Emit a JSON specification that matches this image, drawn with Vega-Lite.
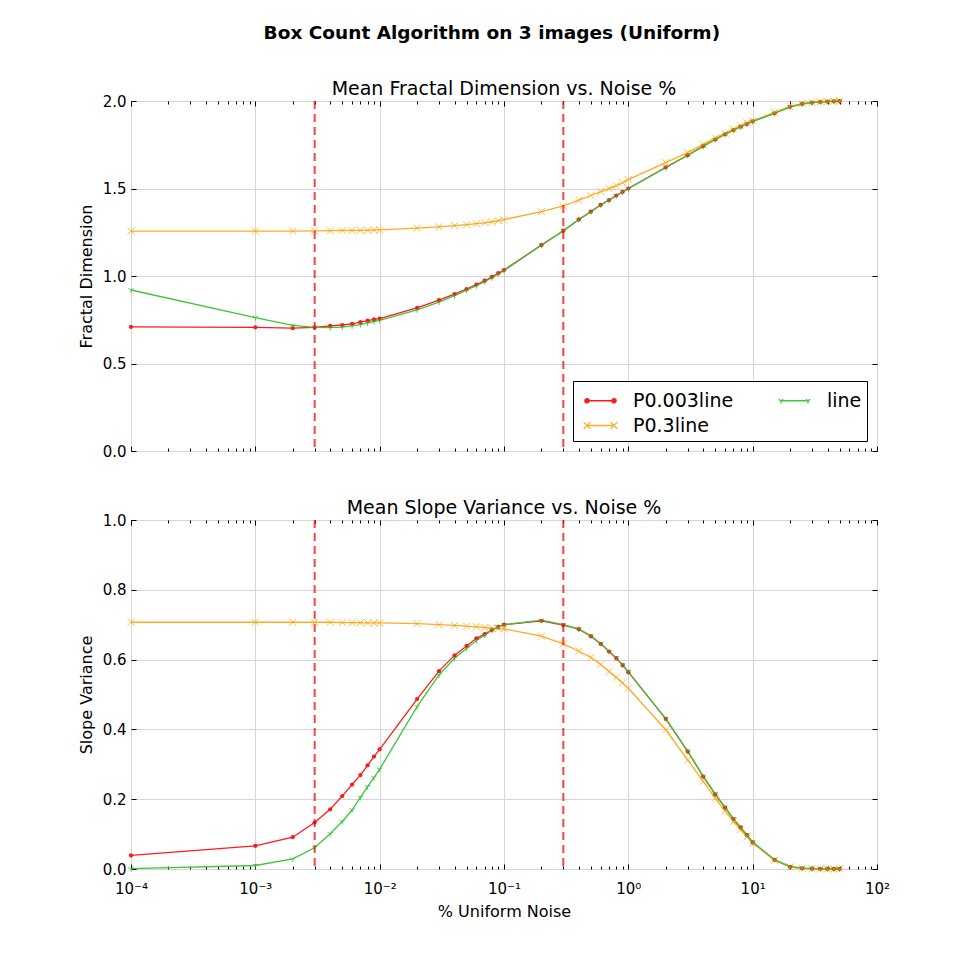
{
"$schema": "https://vega.github.io/schema/vega-lite/v6.json",
"padding": {"left": 77, "top": 24, "right": 10, "bottom": 10},
"title": {"text": "Box Count Algorithm on 3 images (Uniform)", "fontSize": 18.5, "fontWeight": "bold", "anchor": "middle", "offset": 37, "dx": 8, "font": "DejaVu Sans", "color": "black"},
"config": {
 "font": "DejaVu Sans",
 "view": {"stroke": "black", "strokeWidth": 1},
 "axis": {"domain": false, "grid": false, "gridColor": "#d6d6d6", "gridWidth": 1, "gridOpacity": 1, "tickColor": "black", "tickSize": -5, "tickWidth": 1, "labelFlush": false, "labelFont": "DejaVu Sans", "labelFontSize": 15, "labelColor": "black", "titleFont": "DejaVu Sans", "titleFontSize": 16, "titleFontWeight": "normal", "titleColor": "black"},
 "legend": {"orient": "bottom-right", "offset": 10, "columns": 2, "columnPadding": 38, "rowPadding": 0, "strokeColor": "black", "fillColor": "white", "padding": 5, "labelFont": "DejaVu Sans", "labelFontSize": 19, "labelColor": "black", "symbolSize": 729, "symbolStrokeWidth": 1.3, "symbolOffset": 8, "labelOffset": 18, "cornerRadius": 0}
},
"datasets": {
 "d": [
{"x":0.0001,"s":"P0.003line","fd":0.709,"sv":0.039},
{"x":0.001,"s":"P0.003line","fd":0.707,"sv":0.066},
{"x":0.002,"s":"P0.003line","fd":0.702,"sv":0.091},
{"x":0.003,"s":"P0.003line","fd":0.706,"sv":0.133},
{"x":0.004,"s":"P0.003line","fd":0.715,"sv":0.171},
{"x":0.005,"s":"P0.003line","fd":0.72,"sv":0.209},
{"x":0.006,"s":"P0.003line","fd":0.727,"sv":0.242},
{"x":0.007,"s":"P0.003line","fd":0.737,"sv":0.269},
{"x":0.008,"s":"P0.003line","fd":0.745,"sv":0.297},
{"x":0.009,"s":"P0.003line","fd":0.752,"sv":0.322},
{"x":0.01,"s":"P0.003line","fd":0.757,"sv":0.343},
{"x":0.02,"s":"P0.003line","fd":0.818,"sv":0.487},
{"x":0.03,"s":"P0.003line","fd":0.862,"sv":0.567},
{"x":0.04,"s":"P0.003line","fd":0.896,"sv":0.612},
{"x":0.05,"s":"P0.003line","fd":0.925,"sv":0.639},
{"x":0.06,"s":"P0.003line","fd":0.951,"sv":0.661},
{"x":0.07,"s":"P0.003line","fd":0.973,"sv":0.673},
{"x":0.08,"s":"P0.003line","fd":0.995,"sv":0.685},
{"x":0.09,"s":"P0.003line","fd":1.016,"sv":0.694},
{"x":0.1,"s":"P0.003line","fd":1.034,"sv":0.7},
{"x":0.2,"s":"P0.003line","fd":1.177,"sv":0.711},
{"x":0.3,"s":"P0.003line","fd":1.259,"sv":0.699},
{"x":0.4,"s":"P0.003line","fd":1.323,"sv":0.687},
{"x":0.5,"s":"P0.003line","fd":1.368,"sv":0.667},
{"x":0.6,"s":"P0.003line","fd":1.407,"sv":0.645},
{"x":0.7,"s":"P0.003line","fd":1.434,"sv":0.623},
{"x":0.8,"s":"P0.003line","fd":1.46,"sv":0.604},
{"x":0.9,"s":"P0.003line","fd":1.481,"sv":0.584},
{"x":1,"s":"P0.003line","fd":1.5,"sv":0.564},
{"x":2,"s":"P0.003line","fd":1.621,"sv":0.43},
{"x":3,"s":"P0.003line","fd":1.69,"sv":0.337},
{"x":4,"s":"P0.003line","fd":1.742,"sv":0.265},
{"x":5,"s":"P0.003line","fd":1.78,"sv":0.214},
{"x":6,"s":"P0.003line","fd":1.81,"sv":0.176},
{"x":7,"s":"P0.003line","fd":1.834,"sv":0.143},
{"x":8,"s":"P0.003line","fd":1.853,"sv":0.119},
{"x":9,"s":"P0.003line","fd":1.869,"sv":0.097},
{"x":10,"s":"P0.003line","fd":1.884,"sv":0.076},
{"x":15,"s":"P0.003line","fd":1.93,"sv":0.026},
{"x":20,"s":"P0.003line","fd":1.967,"sv":0.006},
{"x":25,"s":"P0.003line","fd":1.983,"sv":0.002},
{"x":30,"s":"P0.003line","fd":1.991,"sv":0.001},
{"x":35,"s":"P0.003line","fd":1.995,"sv":0.0005},
{"x":40,"s":"P0.003line","fd":1.997,"sv":0.0003},
{"x":45,"s":"P0.003line","fd":1.998,"sv":0.0002},
{"x":50,"s":"P0.003line","fd":1.999,"sv":0.0001},
{"x":0.0001,"s":"P0.3line","fd":1.257,"sv":0.707},
{"x":0.001,"s":"P0.3line","fd":1.257,"sv":0.707},
{"x":0.002,"s":"P0.3line","fd":1.257,"sv":0.707},
{"x":0.003,"s":"P0.3line","fd":1.258,"sv":0.707},
{"x":0.004,"s":"P0.3line","fd":1.259,"sv":0.707},
{"x":0.005,"s":"P0.3line","fd":1.26,"sv":0.706},
{"x":0.006,"s":"P0.3line","fd":1.261,"sv":0.706},
{"x":0.007,"s":"P0.3line","fd":1.261,"sv":0.706},
{"x":0.008,"s":"P0.3line","fd":1.262,"sv":0.705},
{"x":0.009,"s":"P0.3line","fd":1.262,"sv":0.705},
{"x":0.01,"s":"P0.3line","fd":1.263,"sv":0.705},
{"x":0.02,"s":"P0.3line","fd":1.273,"sv":0.703},
{"x":0.03,"s":"P0.3line","fd":1.281,"sv":0.7},
{"x":0.04,"s":"P0.3line","fd":1.288,"sv":0.698},
{"x":0.05,"s":"P0.3line","fd":1.293,"sv":0.696},
{"x":0.06,"s":"P0.3line","fd":1.299,"sv":0.694},
{"x":0.07,"s":"P0.3line","fd":1.304,"sv":0.692},
{"x":0.08,"s":"P0.3line","fd":1.31,"sv":0.69},
{"x":0.09,"s":"P0.3line","fd":1.316,"sv":0.689},
{"x":0.1,"s":"P0.3line","fd":1.322,"sv":0.688},
{"x":0.2,"s":"P0.3line","fd":1.368,"sv":0.667},
{"x":0.3,"s":"P0.3line","fd":1.4,"sv":0.645},
{"x":0.4,"s":"P0.3line","fd":1.433,"sv":0.624},
{"x":0.5,"s":"P0.3line","fd":1.46,"sv":0.606},
{"x":0.6,"s":"P0.3line","fd":1.482,"sv":0.586},
{"x":0.7,"s":"P0.3line","fd":1.499,"sv":0.566},
{"x":0.8,"s":"P0.3line","fd":1.516,"sv":0.549},
{"x":0.9,"s":"P0.3line","fd":1.533,"sv":0.533},
{"x":1,"s":"P0.3line","fd":1.551,"sv":0.518},
{"x":2,"s":"P0.3line","fd":1.648,"sv":0.399},
{"x":3,"s":"P0.3line","fd":1.705,"sv":0.313},
{"x":4,"s":"P0.3line","fd":1.752,"sv":0.251},
{"x":5,"s":"P0.3line","fd":1.789,"sv":0.203},
{"x":6,"s":"P0.3line","fd":1.815,"sv":0.166},
{"x":7,"s":"P0.3line","fd":1.839,"sv":0.136},
{"x":8,"s":"P0.3line","fd":1.858,"sv":0.112},
{"x":9,"s":"P0.3line","fd":1.875,"sv":0.092},
{"x":10,"s":"P0.3line","fd":1.887,"sv":0.074},
{"x":15,"s":"P0.3line","fd":1.935,"sv":0.025},
{"x":20,"s":"P0.3line","fd":1.969,"sv":0.006},
{"x":25,"s":"P0.3line","fd":1.985,"sv":0.002},
{"x":30,"s":"P0.3line","fd":1.992,"sv":0.001},
{"x":35,"s":"P0.3line","fd":1.996,"sv":0.0005},
{"x":40,"s":"P0.3line","fd":1.998,"sv":0.0002},
{"x":45,"s":"P0.3line","fd":1.999,"sv":0.0001},
{"x":50,"s":"P0.3line","fd":2.0,"sv":0.0},
{"x":0.0001,"s":"line","fd":0.92,"sv":0.001},
{"x":0.001,"s":"line","fd":0.762,"sv":0.01},
{"x":0.002,"s":"line","fd":0.718,"sv":0.029},
{"x":0.003,"s":"line","fd":0.707,"sv":0.061},
{"x":0.004,"s":"line","fd":0.705,"sv":0.101},
{"x":0.005,"s":"line","fd":0.708,"sv":0.136},
{"x":0.006,"s":"line","fd":0.715,"sv":0.169},
{"x":0.007,"s":"line","fd":0.722,"sv":0.205},
{"x":0.008,"s":"line","fd":0.732,"sv":0.236},
{"x":0.009,"s":"line","fd":0.74,"sv":0.262},
{"x":0.01,"s":"line","fd":0.747,"sv":0.286},
{"x":0.02,"s":"line","fd":0.806,"sv":0.465},
{"x":0.03,"s":"line","fd":0.851,"sv":0.556},
{"x":0.04,"s":"line","fd":0.888,"sv":0.604},
{"x":0.05,"s":"line","fd":0.919,"sv":0.632},
{"x":0.06,"s":"line","fd":0.945,"sv":0.655},
{"x":0.07,"s":"line","fd":0.968,"sv":0.67},
{"x":0.08,"s":"line","fd":0.99,"sv":0.684},
{"x":0.09,"s":"line","fd":1.012,"sv":0.693},
{"x":0.1,"s":"line","fd":1.031,"sv":0.7},
{"x":0.2,"s":"line","fd":1.176,"sv":0.713},
{"x":0.3,"s":"line","fd":1.258,"sv":0.7},
{"x":0.4,"s":"line","fd":1.322,"sv":0.688},
{"x":0.5,"s":"line","fd":1.367,"sv":0.668},
{"x":0.6,"s":"line","fd":1.406,"sv":0.646},
{"x":0.7,"s":"line","fd":1.433,"sv":0.624},
{"x":0.8,"s":"line","fd":1.459,"sv":0.605},
{"x":0.9,"s":"line","fd":1.48,"sv":0.585},
{"x":1,"s":"line","fd":1.499,"sv":0.565},
{"x":2,"s":"line","fd":1.62,"sv":0.431},
{"x":3,"s":"line","fd":1.689,"sv":0.338},
{"x":4,"s":"line","fd":1.741,"sv":0.266},
{"x":5,"s":"line","fd":1.779,"sv":0.215},
{"x":6,"s":"line","fd":1.809,"sv":0.177},
{"x":7,"s":"line","fd":1.833,"sv":0.144},
{"x":8,"s":"line","fd":1.852,"sv":0.12},
{"x":9,"s":"line","fd":1.868,"sv":0.098},
{"x":10,"s":"line","fd":1.883,"sv":0.077},
{"x":15,"s":"line","fd":1.929,"sv":0.027},
{"x":20,"s":"line","fd":1.966,"sv":0.007},
{"x":25,"s":"line","fd":1.982,"sv":0.003},
{"x":30,"s":"line","fd":1.99,"sv":0.001},
{"x":35,"s":"line","fd":1.994,"sv":0.0006},
{"x":40,"s":"line","fd":1.997,"sv":0.0003},
{"x":45,"s":"line","fd":1.998,"sv":0.0002},
{"x":50,"s":"line","fd":1.999,"sv":0.0001}
 ],
 "vl": [{"v": 0.003}, {"v": 0.3}]
},
"spacing": 38,
"resolve": {"legend": {"shape": "independent", "fill": "independent", "stroke": "independent", "color": "independent"}},
"vconcat": [
 {
  "width": 746, "height": 350,
  "title": {"text": "Mean Fractal Dimension vs. Noise %", "fontSize": 19, "fontWeight": "normal", "offset": -5, "font": "DejaVu Sans", "color": "black"},
  "resolve": {"axis": {"x": "independent", "y": "independent"}},
  "layer": [
   {
    "data": {"name": "d"},
    "mark": {"type": "line", "strokeWidth": 1.3},
    "encoding": {
     "x": {"field": "x", "type": "quantitative", "scale": {"type": "log", "domain": [0.0001, 100], "nice": false}, "axis": {"orient": "bottom", "values": [0.0001, 0.001, 0.01, 0.1, 1, 10, 100], "grid": true, "labels": false, "title": null}},
     "y": {"field": "fd", "type": "quantitative", "scale": {"domain": [0, 2], "nice": false, "zero": false}, "axis": {"orient": "left", "values": [0, 0.5, 1, 1.5, 2], "grid": true, "format": ".1f", "title": "Fractal Dimension", "labelPadding": 10, "titlePadding": 8}},
     "color": {"field": "s", "type": "nominal", "scale": {"domain": ["line", "P0.003line", "P0.3line"], "range": ["#3cc83c", "#ff1a1a", "#ffaa22"]}, "legend": null}
    }
   },
   {
    "data": {"name": "d"},
    "transform": [{"filter": {"field": "s", "equal": "P0.003line"}}],
    "mark": {"type": "point", "shape": "circle", "filled": true, "size": 18, "color": "#ff1a1a", "opacity": 1},
    "encoding": {
     "x": {"field": "x", "type": "quantitative", "axis": {"orient": "top", "values": [0.0001, 0.001, 0.01, 0.1, 1, 10, 100], "labels": false, "title": null}},
     "y": {"field": "fd", "type": "quantitative", "axis": {"orient": "right", "values": [0, 0.5, 1, 1.5, 2], "labels": false, "title": null}}
    }
   },
   {
    "data": {"name": "d"},
    "transform": [{"filter": {"field": "s", "equal": "P0.3line"}}],
    "mark": {"type": "point", "shape": "M-1,-1L1,1M-1,1L1,-1", "filled": false, "size": 50, "color": "#ffa500", "strokeWidth": 1, "opacity": 0.75},
    "encoding": {
     "x": {"field": "x", "type": "quantitative", "axis": {"orient": "bottom", "values": [0.0002,0.0003,0.0004,0.0005,0.0006,0.0007,0.0008,0.0009,0.002,0.003,0.004,0.005,0.006,0.007,0.008,0.009,0.02,0.03,0.04,0.05,0.06,0.07,0.08,0.09,0.2,0.3,0.4,0.5,0.6,0.7,0.8,0.9,2,3,4,5,6,7,8,9,20,30,40,50,60,70,80,90], "labels": false, "title": null, "tickSize": -3}},
     "y": {"field": "fd", "type": "quantitative", "axis": null}
    }
   },
   {
    "data": {"name": "d"},
    "transform": [{"filter": {"field": "s", "equal": "line"}}],
    "mark": {"type": "point", "shape": "M0,0L0,1M0,0L-0.87,-0.5M0,0L0.87,-0.5", "filled": false, "size": 36, "color": "#2dbf2d", "strokeWidth": 1, "opacity": 0.8},
    "encoding": {
     "x": {"field": "x", "type": "quantitative", "axis": {"orient": "top", "values": [0.0002,0.0003,0.0004,0.0005,0.0006,0.0007,0.0008,0.0009,0.002,0.003,0.004,0.005,0.006,0.007,0.008,0.009,0.02,0.03,0.04,0.05,0.06,0.07,0.08,0.09,0.2,0.3,0.4,0.5,0.6,0.7,0.8,0.9,2,3,4,5,6,7,8,9,20,30,40,50,60,70,80,90], "labels": false, "title": null, "tickSize": -3}},
     "y": {"field": "fd", "type": "quantitative", "axis": null}
    }
   },
   {
    "data": {"name": "vl"},
    "mark": {"type": "rule", "color": "red", "opacity": 0.75, "strokeWidth": 2, "strokeDash": [8, 5]},
    "encoding": {
     "x": {"field": "v", "type": "quantitative", "axis": null}
    }
   },
   {
    "data": {"name": "d"},
    "transform": [{"filter": {"field": "s", "equal": "none"}}],
    "mark": {"type": "point", "strokeWidth": 1.3, "opacity": 1},
    "encoding": {
     "shape": {"field": "s", "type": "nominal", "scale": {"domain": ["P0.003line", "P0.3line", "line"], "range": ["M-1,0L1,0M-0.84,0A0.16,0.16,0,1,1,-1.16,0A0.16,0.16,0,1,1,-0.84,0ZM1.16,0A0.16,0.16,0,1,1,0.84,0A0.16,0.16,0,1,1,1.16,0Z", "M-1,0L1,0M-1.25,-0.25L-0.75,0.25M-1.25,0.25L-0.75,-0.25M0.75,-0.25L1.25,0.25M0.75,0.25L1.25,-0.25", "M-1,0L1,0M-1,0L-1,0.2M-1,0L-1.17,-0.1M-1,0L-0.83,-0.1M1,0L1,0.2M1,0L0.83,-0.1M1,0L1.17,-0.1"]}, "legend": {"title": null, "values": ["P0.003line", "P0.3line", "line"]}},
     "fill": {"field": "s", "type": "nominal", "scale": {"domain": ["P0.003line", "P0.3line", "line"], "range": ["#ff1a1a", "#ffaa22", "#3cc83c"]}, "legend": {"title": null, "values": ["P0.003line", "P0.3line", "line"]}},
     "stroke": {"field": "s", "type": "nominal", "scale": {"domain": ["P0.003line", "P0.3line", "line"], "range": ["#ff1a1a", "#ffaa22", "#3cc83c"]}, "legend": {"title": null, "values": ["P0.003line", "P0.3line", "line"]}}
    }
   }
  ]
 },
 {
  "width": 746, "height": 349,
  "title": {"text": "Mean Slope Variance vs. Noise %", "fontSize": 19, "fontWeight": "normal", "offset": -5, "font": "DejaVu Sans", "color": "black"},
  "resolve": {"axis": {"x": "independent", "y": "independent"}},
  "layer": [
   {
    "data": {"name": "d"},
    "mark": {"type": "line", "strokeWidth": 1.3},
    "encoding": {
     "x": {"field": "x", "type": "quantitative", "scale": {"type": "log", "domain": [0.0001, 100], "nice": false}, "axis": {"orient": "bottom", "values": [0.0001, 0.001, 0.01, 0.1, 1, 10, 100], "grid": true, "labels": true, "title": "% Uniform Noise", "labelPadding": 17, "titlePadding": 7, "labelExpr": "datum.value < 0.0005 ? '10⁻⁴' : datum.value < 0.005 ? '10⁻³' : datum.value < 0.05 ? '10⁻²' : datum.value < 0.5 ? '10⁻¹' : datum.value < 5 ? '10⁰' : datum.value < 50 ? '10¹' : '10²'"}},
     "y": {"field": "sv", "type": "quantitative", "scale": {"domain": [0, 1], "nice": false}, "axis": {"orient": "left", "values": [0, 0.2, 0.4, 0.6, 0.8, 1], "grid": true, "format": ".1f", "title": "Slope Variance", "labelPadding": 10, "titlePadding": 8}},
     "color": {"field": "s", "type": "nominal", "scale": {"domain": ["line", "P0.003line", "P0.3line"], "range": ["#3cc83c", "#ff1a1a", "#ffaa22"]}, "legend": null}
    }
   },
   {
    "data": {"name": "d"},
    "transform": [{"filter": {"field": "s", "equal": "P0.003line"}}],
    "mark": {"type": "point", "shape": "circle", "filled": true, "size": 18, "color": "#ff1a1a", "opacity": 1},
    "encoding": {
     "x": {"field": "x", "type": "quantitative", "axis": {"orient": "top", "values": [0.0001, 0.001, 0.01, 0.1, 1, 10, 100], "labels": false, "title": null}},
     "y": {"field": "sv", "type": "quantitative", "axis": {"orient": "right", "values": [0, 0.2, 0.4, 0.6, 0.8, 1], "labels": false, "title": null}}
    }
   },
   {
    "data": {"name": "d"},
    "transform": [{"filter": {"field": "s", "equal": "P0.3line"}}],
    "mark": {"type": "point", "shape": "M-1,-1L1,1M-1,1L1,-1", "filled": false, "size": 50, "color": "#ffa500", "strokeWidth": 1, "opacity": 0.75},
    "encoding": {
     "x": {"field": "x", "type": "quantitative", "axis": {"orient": "bottom", "values": [0.0002,0.0003,0.0004,0.0005,0.0006,0.0007,0.0008,0.0009,0.002,0.003,0.004,0.005,0.006,0.007,0.008,0.009,0.02,0.03,0.04,0.05,0.06,0.07,0.08,0.09,0.2,0.3,0.4,0.5,0.6,0.7,0.8,0.9,2,3,4,5,6,7,8,9,20,30,40,50,60,70,80,90], "labels": false, "title": null, "tickSize": -3}},
     "y": {"field": "sv", "type": "quantitative", "axis": null}
    }
   },
   {
    "data": {"name": "d"},
    "transform": [{"filter": {"field": "s", "equal": "line"}}],
    "mark": {"type": "point", "shape": "M0,0L0,1M0,0L-0.87,-0.5M0,0L0.87,-0.5", "filled": false, "size": 36, "color": "#2dbf2d", "strokeWidth": 1, "opacity": 0.8},
    "encoding": {
     "x": {"field": "x", "type": "quantitative", "axis": {"orient": "top", "values": [0.0002,0.0003,0.0004,0.0005,0.0006,0.0007,0.0008,0.0009,0.002,0.003,0.004,0.005,0.006,0.007,0.008,0.009,0.02,0.03,0.04,0.05,0.06,0.07,0.08,0.09,0.2,0.3,0.4,0.5,0.6,0.7,0.8,0.9,2,3,4,5,6,7,8,9,20,30,40,50,60,70,80,90], "labels": false, "title": null, "tickSize": -3}},
     "y": {"field": "sv", "type": "quantitative", "axis": null}
    }
   },
   {
    "data": {"name": "vl"},
    "mark": {"type": "rule", "color": "red", "opacity": 0.75, "strokeWidth": 2, "strokeDash": [8, 5]},
    "encoding": {
     "x": {"field": "v", "type": "quantitative", "axis": null}
    }
   }
  ]
 }
]
}
